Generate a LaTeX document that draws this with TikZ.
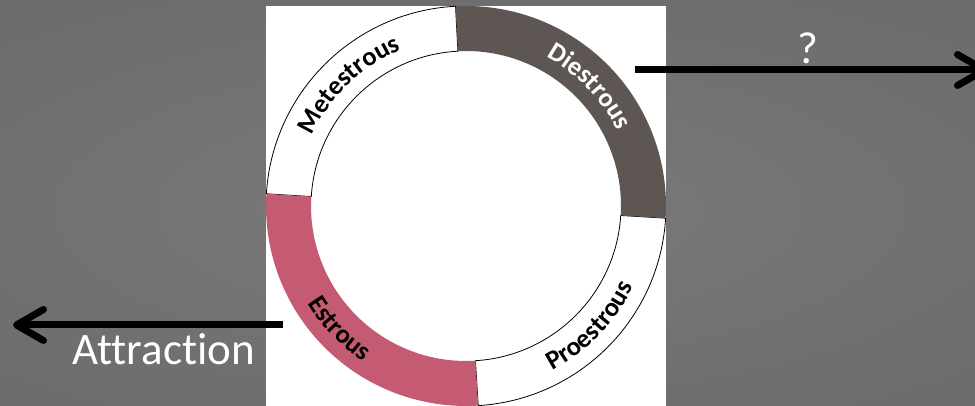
\documentclass[tikz,border=0pt]{standalone}
\usepackage{fontspec}
\setmainfont{Carlito}[Ligatures={NoCommon,NoRare,NoContextual}]
\usetikzlibrary{decorations.text, arrows.meta}
\definecolor{bgin}{RGB}{122,122,122}
\definecolor{bgout}{RGB}{82,82,82}
\definecolor{diest}{RGB}{94,86,83}
\definecolor{estr}{RGB}{197,90,115}
\pgfdeclareradialshading{bgshade}{\pgfpoint{0bp}{0bp}}{color(0bp)=(bgin); color(50bp)=(bgout)}
\begin{document}
\begin{tikzpicture}[x=1pt,y=1pt,
  whiteseg/.style={fill=white, draw=black, line width=0.8pt},
  bigarrow/.style={line width=7pt, -{Straight Barb[length=27pt,width=31pt,round]}},
  arclabel/.style={decorate, decoration={text along path, text align=center,
     text={|\bfseries\fontsize{26.5}{26.5}\selectfont|#1}}},
  qtext/.style={text=white, font=\fontsize{45}{45}\selectfont, inner sep=0pt},
]
\useasboundingbox (0,0) rectangle (975,406);
\clip (0,0) rectangle (975,406);
\shade[shading=bgshade] (-520,-154) rectangle (1480,546);
\fill[white] (266,0) rectangle (666,400);
\begin{scope}[shift={(466,200)}]
  \coordinate (ctr) at (0,0);
  % Metestrous
  \filldraw[whiteseg] (93:200) arc[start angle=93,end angle=176.5,radius=200pt]
     -- (176.5:155) arc[start angle=176.5,end angle=93,radius=155pt] -- cycle;
  % Proestrous
  \filldraw[whiteseg] (-86.5:200) arc[start angle=-86.5,end angle=-3.5,radius=200pt]
     -- (-3.5:155) arc[start angle=-3.5,end angle=-86.5,radius=155pt] -- cycle;
  % Diestrous
  \fill[diest] (-3.5:200) arc[start angle=-3.5,end angle=93,radius=200pt]
     -- (93:155) arc[start angle=93,end angle=-3.5,radius=155pt] -- cycle;
  % Estrous
  \fill[estr] (176.5:200) arc[start angle=176.5,end angle=273.5,radius=200pt]
     -- (273.5:155) arc[start angle=273.5,end angle=176.5,radius=155pt] -- cycle;
  % labels
  \path[arclabel=Metestrous] (169:169) arc[start angle=169,end angle=99,radius=169pt];
  \path[arclabel=Diestrous, decoration={text color=white}] (79:169) arc[start angle=79,end angle=9,radius=169pt];
  \path[arclabel=Proestrous] (-79:186) arc[start angle=-79,end angle=-9,radius=186pt];
  \path[arclabel=Estrous] (189:186) arc[start angle=189,end angle=259,radius=186pt];
\end{scope}
\coordinate (rs) at (635,336);
\coordinate (re) at (988,336);
\draw[bigarrow] (rs) -- (re);
\coordinate (ls) at (283,81);
\coordinate (le) at (13,81);
\draw[bigarrow] (ls) -- (le);
\node[qtext] (q) at (808,358) {?};
\node[qtext, anchor=base] (attr) at (163.5,41) {Attraction};
\end{tikzpicture}
\end{document}
